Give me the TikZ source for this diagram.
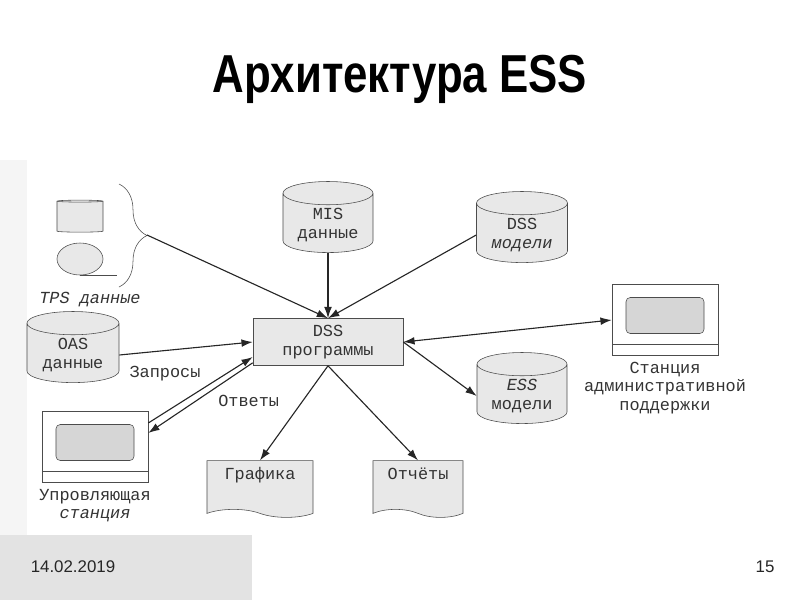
\documentclass[tikz,border=0pt]{standalone}
\usepackage{fontspec}
\setmainfont{Liberation Sans}
\newfontfamily\diagfont{Liberation Mono}
\newfontfamily\titlefont[FakeStretch=0.82]{Liberation Sans}
\usetikzlibrary{positioning,shapes.geometric,shapes.symbols,decorations.pathreplacing,arrows.meta}

\begin{document}
\begin{tikzpicture}[
  x=0.025cm, y=-0.025cm,
  txt/.style={font=\diagfont\fontsize{12}{14}\selectfont, text=black!80, align=center},
  db/.style={txt, cylinder, shape border rotate=90, aspect=0.35, draw=black!70,
    cylinder uses custom fill, cylinder body fill=gray!18, cylinder end fill=gray!18, inner sep=2pt},
  prog/.style={txt, draw=black!70, fill=gray!18, minimum width=3.75cm, minimum height=1.175cm},
  doc/.style={txt, tape, tape bend top=none, tape bend bottom=out and in, tape bend height=0.2cm,
    draw=black!70, fill=gray!18, minimum height=1.4cm, text height=10pt, text depth=18pt},
  station/.style={draw=black!70, minimum width=2.65cm, minimum height=1.775cm, path picture={
    \draw[black!70, fill=gray!32, rounded corners=3pt]
      ([shift={(0.35cm,-0.325cm)}]path picture bounding box.north west) rectangle
      ([shift={(-0.35cm,0.55cm)}]path picture bounding box.south east);
    \draw[black!70] ([yshift=0.275cm]path picture bounding box.south west) --
      ([yshift=0.275cm]path picture bounding box.south east);}},
  arrow/.style={->, >={Latex[length=8pt,width=5.5pt]}, thick, black!85}
]
\useasboundingbox (0,0) rectangle (800,600);

% slide background
\fill[gray!8] (0,160) rectangle (27,535);
\fill[gray!22] (0,535) rectangle (252,600);

% Title
\node[font=\titlefont\bfseries\fontsize{38}{44}\selectfont] (title) at (400,79) {Архитектура ESS};

% TPS data
\node[db, minimum width=1.15cm, minimum height=0.8cm] (tpsdb) at (80,217) {};
\node[ellipse, draw=black!70, fill=gray!18, minimum width=1.15cm, minimum height=0.8cm, inner sep=0pt] (tape) at (80,259) {};
\draw[black!70] (tape.south) -- ++(37,0);
\draw[black!70, decorate, decoration={brace, amplitude=0.7cm}] (119,184) -- (119,287);
\coordinate (tps) at (147,235);
\node[txt] (tpslabel) at (90,300) {\itshape TPS данные};

% Data and models
\node[db, minimum width=2.3cm, minimum height=1.33cm] (oas) at (73,355) {OAS\\данные};
\node[db, minimum width=2.25cm, minimum height=1.6cm] (mis) at (328,225) {MIS\\данные};
\node[db, minimum width=2.275cm, minimum height=1.5cm] (dssmod) at (522,235) {DSS\\\textit{модели}};
\node[db, minimum width=2.25cm, minimum height=1.55cm] (essmod) at (522,396) {\textit{ESS}\\модели};

% DSS programs
\node[prog] (dss) at (328,342) {DSS\\программы};

% Stations
\node[station] (admin) at (665,320) {};
\node[txt, below=1pt of admin, font=\diagfont\fontsize{12}{13}\selectfont] (adminlabel) {Станция\\административной\\поддержки};
\node[station] (ctrl) at (95,447) {};
\node[txt, below=1pt of ctrl, font=\diagfont\fontsize{12}{13}\selectfont] (ctrllabel) {Упровляющая\\\textit{станция}};

% Outputs
\node[doc, minimum width=2.65cm] (graph) at (260,485) {Графика};
\node[doc, minimum width=2.25cm] (reports) at (418,485) {Отчёты};

% Arrows
\draw[arrow] (tps) -- (dss.north);
\draw[arrow] (mis.south) -- (dss.north);
\draw[arrow] (dssmod.west) -- (dss.north);
\draw[arrow] (oas.east) -- (dss.west);
\draw[arrow] ([yshift=0.6cm]ctrl.east) -- node[txt, pos=0.55, anchor=south east] (zapr) {Запросы} ([yshift=-0.375cm]dss.west);
\draw[arrow] ([yshift=-0.52cm]dss.west) -- node[txt, pos=0.38, anchor=north west] (otv) {Ответы} ([yshift=0.35cm]ctrl.east);
\draw[arrow, <->] (dss.east) -- (admin.west);
\draw[arrow] (dss.east) -- (essmod.west);
\draw[arrow] (dss.south) -- (graph.north);
\draw[arrow] (dss.south) -- (reports.north);

% Footer
\node[font=\fontsize{12}{14}\selectfont, text=black!85] (date) at (73,567) {14.02.2019};
\node[font=\fontsize{12}{14}\selectfont, text=black!85] (page) at (765,567) {15};

\end{tikzpicture}
\end{document}
